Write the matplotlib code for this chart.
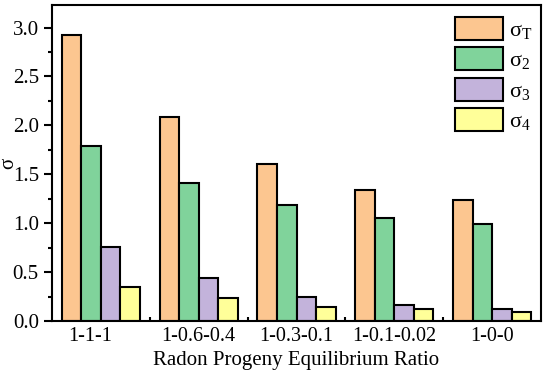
import numpy as np
import matplotlib
matplotlib.use("Agg")
import matplotlib.pyplot as plt
import matplotlib.transforms as mtransforms
from matplotlib.ticker import MultipleLocator, FormatStrFormatter

plt.rcParams['font.family'] = ['Liberation Serif', 'DejaVu Serif']
plt.rcParams['mathtext.fontset'] = 'custom'
plt.rcParams['mathtext.rm'] = 'Liberation Serif'

# data
ratios = ['1-1-1', '1-0.6-0.4', '1-0.3-0.1', '1-0.1-0.02', '1-0-0']
sigma_T = [2.92, 2.09, 1.60, 1.34, 1.24]
sigma_2 = [1.79, 1.415, 1.187, 1.05, 0.99]
sigma_3 = [0.76, 0.437, 0.249, 0.164, 0.126]
sigma_4 = [0.35, 0.232, 0.146, 0.12, 0.095]
series = [sigma_T, sigma_2, sigma_3, sigma_4]
labels = [r'$\mathregular{σ_T}$', r'$\mathregular{σ_2}$',
          r'$\mathregular{σ_3}$', r'$\mathregular{σ_4}$']
colors = ['#FCC690', '#80D39B', '#C3B3DB', '#FFFF99']

fig = plt.figure(figsize=(5.5, 3.81), dpi=100)
ax = fig.add_axes([52/550, 1 - 321/381, (541-52)/550, (321-5)/381])

x = np.arange(len(ratios))
w = 0.2
for i, (vals, lab, c) in enumerate(zip(series, labels, colors)):
    ax.bar(x + (i - 1.5) * w, vals, w, color=c, edgecolor='black',
           linewidth=1.5, label=lab)

ax.set_xlim(-0.5, 4.5)
ax.set_ylim(0, 3.23)
ax.set_xticks(x)
ax.set_xticklabels(ratios, fontsize=14.5)
ax.set_xticks(x[:-1] + 0.5, minor=True)
ax.tick_params(axis='x', which='major', length=0, pad=4)
ax.tick_params(axis='x', which='minor', direction='in', length=3, width=1.5)
ax.yaxis.set_major_locator(MultipleLocator(0.5))
ax.yaxis.set_minor_locator(MultipleLocator(0.25))
ax.yaxis.set_major_formatter(FormatStrFormatter('%.1f'))
ax.tick_params(axis='y', which='major', direction='out', length=6, width=1.5, labelsize=15)
ax.tick_params(axis='y', which='minor', direction='out', length=3, width=1.5)
for s in ax.spines.values():
    s.set_linewidth(1.5)

# first category label sits a bit left of its group in the original
lbl = ax.get_xticklabels()[0]
lbl.set_transform(lbl.get_transform() +
                  mtransforms.ScaledTranslation(-0.11, 0, fig.dpi_scale_trans))

ax.set_xlabel('Radon Progeny Equilibrium Ratio', fontsize=15, labelpad=4)
ax.set_ylabel('σ', fontsize=15)
ax.yaxis.set_label_coords(-0.068, 0.5)

ax.legend(loc='upper right', bbox_to_anchor=(1.0, 0.99), frameon=False,
          fontsize=16, handlelength=2.16, handleheight=1.22,
          labelspacing=0.28, handletextpad=0.28, borderaxespad=0)

fig.savefig('out.png', dpi=100)
